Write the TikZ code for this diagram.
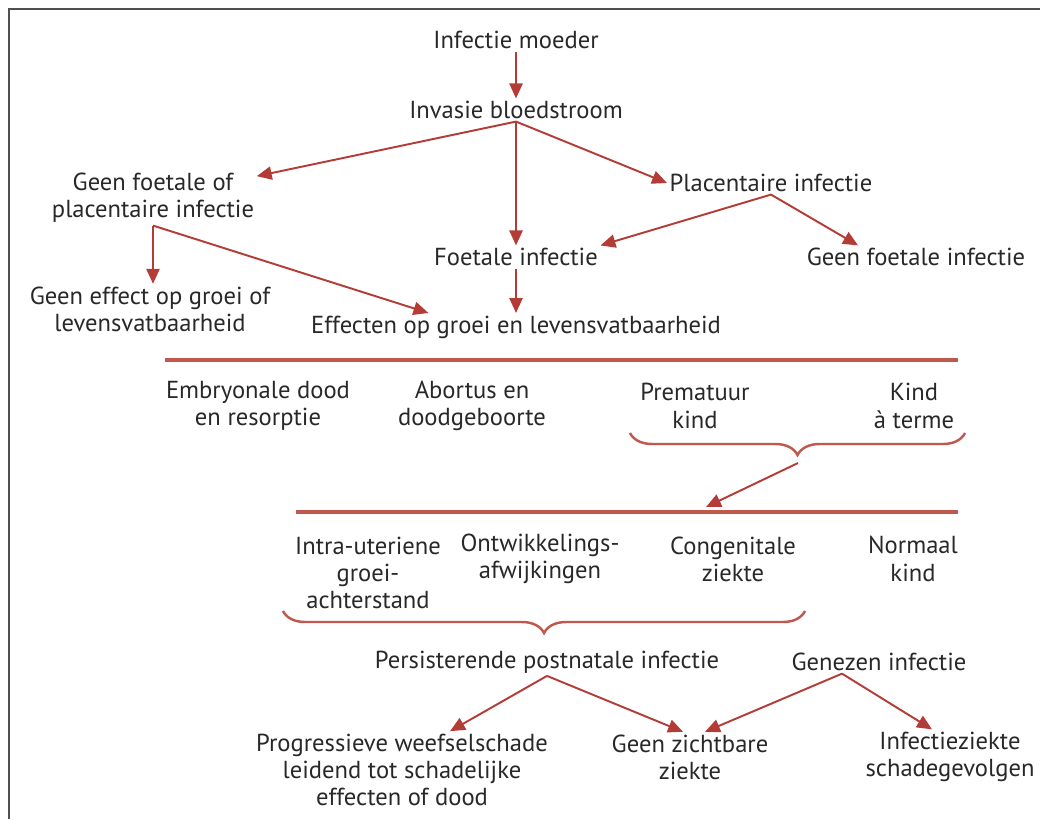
\documentclass[tikz,border=0pt]{standalone}
\usepackage{fontspec}
\setmainfont{PT Sans}
\usetikzlibrary{arrows.meta,calc,decorations.pathreplacing}
\definecolor{arrowred}{RGB}{180,60,55}
\definecolor{linered}{RGB}{192,88,78}
\definecolor{txtgray}{RGB}{40,40,40}
\definecolor{framegray}{RGB}{80,80,80}

\begin{document}
\begin{tikzpicture}[x=0.02cm,y=-0.02cm,->,>={Triangle[length=8.5pt,width=7.5pt]},
  line width=1.1pt,color=arrowred,
  box/.style={align=center,text=txtgray,font=\fontsize{14}{15.5}\selectfont,inner sep=1pt},
  rule/.style={-,color=linered,line width=2pt},
  curly/.style={-,color=linered,line width=1.4pt,decorate,decoration={brace,amplitude=0.44cm}}]

  \useasboundingbox (0,0) rectangle (1040,819);
  \draw[-,framegray,line width=1.6pt] (9,819) -- (9,9) -- (1040,9);

  \node[box] (moeder)   at (516,40)  {Infectie moeder};
  \node[box] (invasie)  at (516,110) {Invasie bloedstroom};
  \node[box] (geenfp)   at (153,198) {Geen foetale of\\placentaire infectie};
  \node[box] (placenta) at (771,183) {Placentaire infectie};
  \node[box] (foetaal)  at (516,257) {Foetale infectie};
  \node[box] (geenfoet) at (916,257) {Geen foetale infectie};
  \node[box] (geeneff)  at (150,309) {Geen effect op groei of\\levensvatbaarheid};
  \node[box] (effect)   at (516,327) {Effecten op groei en levensvatbaarheid};

  \node[box] (embryo)   at (258,406) {Embryonale dood\\en resorptie};
  \node[box] (abortus)  at (472,406) {Abortus en\\doodgeboorte};
  \node[box] (prem)     at (695,406) {Prematuur\\kind};
  \node[box] (aterme)   at (914,406) {Kind\\à terme};

  \node[box] (iugr)     at (368,573) {Intra-uteriene\\groei-\\achterstand};
  \node[box] (ontw)     at (540,559) {Ontwikkelings-\\afwijkingen};
  \node[box] (cong)     at (733,559) {Congenitale\\ziekte};
  \node[box] (normaal)  at (913,559) {Normaal\\kind};

  \node[box] (persist)  at (547,662) {Persisterende postnatale infectie};
  \node[box] (genezen)  at (879,662) {Genezen infectie};
  \node[box] (progr)    at (402,770) {Progressieve weefselschade\\leidend tot schadelijke\\effecten of dood};
  \node[box] (geenz)    at (690,757) {Geen zichtbare\\ziekte};
  \node[box] (infz)     at (950,757) {Infectieziekte\\schadegevolgen};

  % scheidingslijnen en accolades
  \draw[rule] (165,360) -- (958,360);
  \draw[rule] (296,512) -- (958,512);
  \draw[curly] (965,433) -- (630,433);
  \draw[curly] (805,611) -- (283,611);
  \coordinate (brace1) at (798,463);
  \coordinate (line2arr) at (706,507);

  \path
    (moeder) edge (invasie)
    (invasie.south) edge (geenfp)
    (invasie.south) edge (foetaal)
    (invasie.south) edge (placenta.west)
    (placenta.south) edge (foetaal.north east)
    (placenta.south) edge ($(geenfoet.north)+(-58,0)$)
    (geenfp.south) edge (geenfp.south |- geeneff.north)
    (geenfp.south) edge ($(effect.north west)+(120,0)$)
    (foetaal) edge (effect)
    (brace1) edge (line2arr)
    (persist.south) edge ($(progr.north)+(48,0)$)
    (persist.south) edge ($(geenz.north)+(-7,0)$)
    ($(genezen.south)+(-37,0)$) edge ($(geenz.north)+(15,0)$)
    ($(genezen.south)+(-37,0)$) edge ($(infz.north)+(-18,0)$);
\end{tikzpicture}
\end{document}
